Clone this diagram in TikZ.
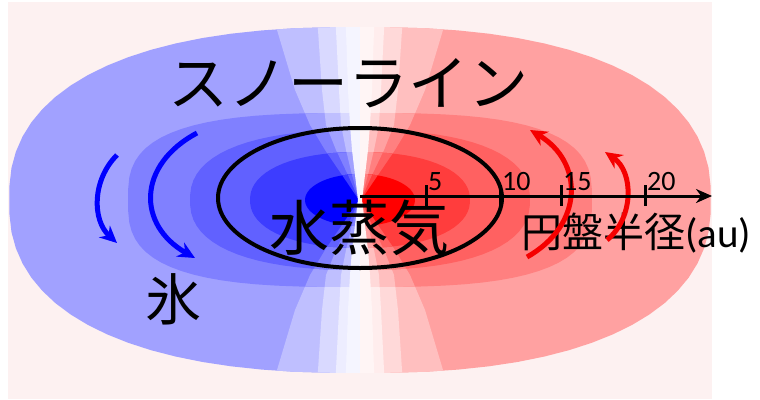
\documentclass[tikz,border=0pt]{standalone}
\usepackage{fontspec}
\usetikzlibrary{arrows.meta}
\newfontfamily\jpfont{Noto Sans CJK JP}
\newfontfamily\latinfont{Carlito}
\definecolor{diskbg}{RGB}{253,241,241}
\definecolor{flowred}{RGB}{245,0,0}

% share of colour for each contour level (0 = palest)
\newcommand\levelpc[1]{\pgfmathtruncatemacro\pc{{4,7,15,25,37,50,62,76,100}[#1]}}

% one contour level: #1 = level, #2 = outline; paler strips round the axis
\newcommand\fillring[2]{%
  \begin{scope}
    \clip #2;
    \levelpc{#1}
    \fill[blue!\pc!white] (0,0) rectangle (360,400);
    \fill[red!\pc!white] (360,0) rectangle (760,400);
    \foreach \p/\wa/\wb/\wc/\wd/\we/\wf/\wg in
      {1/1/18/35/50/65/83/90, 2/1/12/24/34/38/42/44,
       3/1/8/14/19/21/24/25, 4/2/5/8/10/12/14/15}{
      \pgfmathtruncatemacro\lv{\p==4 ? 0 : max(#1-\p,1)}
      \levelpc{\lv}
      \fill[blue!\pc!white] (360,0) -- (360-\wg,0) -- (360-\wf,30)
        -- (360-\we,90) -- (360-\wd,125) -- (360-\wc,150) -- (360-\wb,175)
        -- (360-\wa,200) -- (360-\wb,225) -- (360-\wc,250) -- (360-\wd,275)
        -- (360-\we,310) -- (360-\wf,370) -- (360-\wg,400) -- (360,400) -- cycle;
      \fill[red!\pc!white] (360,0) -- (360+\wg,0) -- (360+\wf,30)
        -- (360+\we,90) -- (360+\wd,125) -- (360+\wc,150) -- (360+\wb,175)
        -- (360+\wa,200) -- (360+\wb,225) -- (360+\wc,250) -- (360+\wd,275)
        -- (360+\we,310) -- (360+\wf,370) -- (360+\wg,400) -- (360,400) -- cycle;
    }
  \end{scope}}

% superellipse round the centre: #1 = level, #2/#3 = radii, #4 = exponent
\newcommand\superring[4]{\fillring{#1}{plot[domain=2.5:357.5,samples=72] ({360+#2*cos(\x)/abs(cos(\x))*abs(cos(\x))^(2/#4)},{200+#3*sin(\x)/abs(sin(\x))*abs(sin(\x))^(2/#4)}) -- cycle}}

\begin{document}
\begin{tikzpicture}[x=1pt,y=-1pt,
    jp/.style={font=\jpfont\fontsize{#1}{#1}\selectfont, inner sep=0pt},
    num/.style={font=\latinfont\fontsize{#1}{#1}\selectfont, inner sep=0pt},
    flow/.style={line width=5pt, -{Stealth[length=17pt,width=16pt]}}]
  \useasboundingbox (0,0) rectangle (760,399);
  \fill[diskbg] (8,2) rectangle (712,399);
  % contour levels, outermost first
  \superring{4}{351}{173}{2.4}
  \superring{5}{232}{87}{3}
  \superring{6}{170}{70}{2.4}
  \superring{7}{110}{48}{2.2}
  \superring{8}{55}{26}{2}
  % water vapour zone
  \draw[line width=4pt] (360,198) ellipse[x radius=142,y radius=70];
  \node[jp=60] (snowline) at (348,83) {スノーライン};
  \node[jp=60] (vapor) at (359,228) {水蒸気};
  \node[jp=56] (ice) at (173,299) {氷};
  \node[jp=41,anchor=base west] (radius) at (521,247)
    {円盤半径{\latinfont(au)}};
  % motion of the gas
  \draw[flow,blue] (197,133) .. controls (137,165) and (137,225) .. (195,258);
  \draw[flow,blue] (117,155) .. controls (92,180) and (92,220) .. (117,243);
  \draw[flow,flowred] (527,257) .. controls (584,225) and (584,162) .. (530,130);
  \draw[flow,flowred] (607,240) .. controls (634,218) and (634,172) .. (605,152);
  % radius axis
  \coordinate (origin) at (360,196);
  \coordinate (axisend) at (712,196);
  \draw[line width=3pt,-{Stealth[length=16pt,width=14pt]}] (origin) -- (axisend);
  \foreach \t/\xt in {5/426,10/500,15/561,20/645}{
    \draw[line width=3pt] (\xt,185) -- (\xt,206);
    \node[num=28,anchor=base west] (tick\t) at (\xt+2,190) {\t};
  }
\end{tikzpicture}
\end{document}
